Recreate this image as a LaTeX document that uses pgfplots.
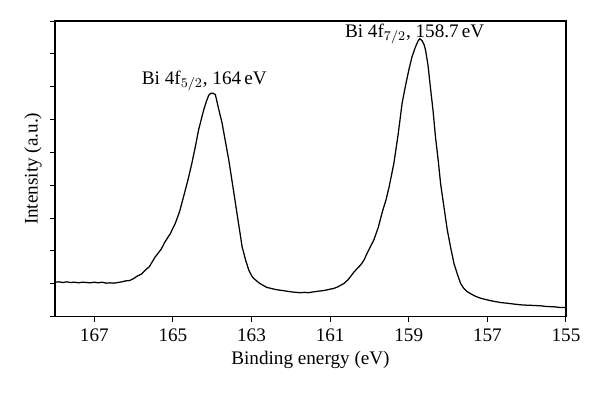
\documentclass[border=0pt]{standalone}
\usepackage{fontspec}
\setmainfont{Liberation Serif}
\usepackage{pgfplots}
\pgfplotsset{compat=1.18}
\begin{document}
\fontsize{11.5}{13.5}\selectfont
\begin{tikzpicture}
\begin{axis}[
  anchor=south west, at={(0,0)},
  scale only axis,
  width=306.6pt, height=177.4pt,
  x dir=reverse,
  xmin=155, xmax=168, ymin=0, ymax=9,
  xtick={155,157,159,161,163,165,167},
  ytick={0,1,2,3,4,5,6,7,8,9},
  yticklabels={},
  tick align=outside,
  xtick pos=bottom, ytick pos=left,
  major tick length=3pt,
  axis line style={line width=0.8pt},
  every tick/.style={line width=0.6pt, black},
  /pgf/number format/assume math mode=true,
  ticklabel style={font=\fontsize{11.5}{13.5}\selectfont},
  xlabel={Binding energy (eV)},
  ylabel={Intensity (a.u.)},
  label style={font=\fontsize{11.5}{13.5}\selectfont},
  xlabel style={yshift=2pt},
  ylabel style={yshift=-7pt},
  clip=false,
]
\addplot[black, line width=0.75pt] coordinates {
(168.0,1.05) (167.9,1.06) (167.8,1.04) (167.7,1.06) (167.6,1.04) (167.5,1.05) (167.4,1.03)
(167.3,1.05) (167.2,1.04) (167.1,1.03) (167.0,1.05) (166.9,1.03) (166.8,1.05) (166.7,1.02)
(166.6,1.03) (166.5,1.02) (166.4,1.04) (166.3,1.06) (166.2,1.09) (166.1,1.10) (166.0,1.16)
(165.9,1.24) (165.8,1.30) (165.7,1.42) (165.6,1.52) (165.45,1.82) (165.3,2.05) (165.2,2.28)
(165.07,2.52) (164.94,2.84) (164.83,3.20) (164.73,3.65) (164.62,4.15) (164.52,4.66)
(164.43,5.17) (164.35,5.67) (164.28,6.00) (164.22,6.28) (164.15,6.55) (164.09,6.74)
(164.04,6.80) (163.98,6.80) (163.92,6.76) (163.84,6.34) (163.75,5.90) (163.67,5.37)
(163.58,4.78) (163.5,4.16) (163.43,3.62) (163.37,3.14) (163.3,2.60) (163.24,2.13)
(163.15,1.72) (163.07,1.42) (163.0,1.25) (162.95,1.17) (162.8,1.02) (162.7,0.95)
(162.61,0.89) (162.5,0.86) (162.4,0.83) (162.3,0.81) (162.18,0.79) (162.07,0.77)
(161.96,0.75) (161.86,0.74) (161.76,0.73) (161.65,0.74) (161.55,0.73) (161.45,0.75)
(161.33,0.77) (161.2,0.79) (161.1,0.81) (160.99,0.84) (160.91,0.86) (160.82,0.90)
(160.74,0.95) (160.65,1.01) (160.55,1.12) (160.48,1.22) (160.4,1.35) (160.3,1.48)
(160.22,1.58) (160.14,1.72) (160.06,1.93) (159.98,2.12) (159.89,2.33) (159.78,2.70)
(159.67,3.20) (159.58,3.55) (159.5,3.95) (159.38,4.66) (159.27,5.55) (159.17,6.49)
(159.08,7.05) (159.0,7.50) (158.92,7.90) (158.83,8.21) (158.76,8.40) (158.72,8.46)
(158.66,8.40) (158.61,8.28) (158.57,8.10) (158.51,7.65) (158.45,6.99) (158.38,6.25)
(158.32,5.47) (158.25,4.75) (158.19,4.05) (158.1,3.30) (158.02,2.64) (157.93,2.08)
(157.85,1.62) (157.76,1.28) (157.68,1.01) (157.6,0.86) (157.51,0.76) (157.4,0.68)
(157.3,0.62) (157.17,0.56) (157.0,0.51) (156.85,0.47) (156.66,0.43) (156.5,0.41)
(156.3,0.38) (156.15,0.36) (156.0,0.35) (155.8,0.34) (155.64,0.33) (155.5,0.31)
(155.3,0.30) (155.15,0.28) (155.0,0.28)
};
\node[anchor=base] at (axis cs:164.2,7.08) {Bi 4f$_{5/2}$, 164\,eV};
\node[anchor=base] at (axis cs:158.85,8.5) {Bi 4f$_{7/2}$, 158.7\,eV};
\end{axis}
\pgfresetboundingbox
\path[use as bounding box] (-33pt,-49.4pt) rectangle (327pt,190pt);
\end{tikzpicture}
\end{document}
